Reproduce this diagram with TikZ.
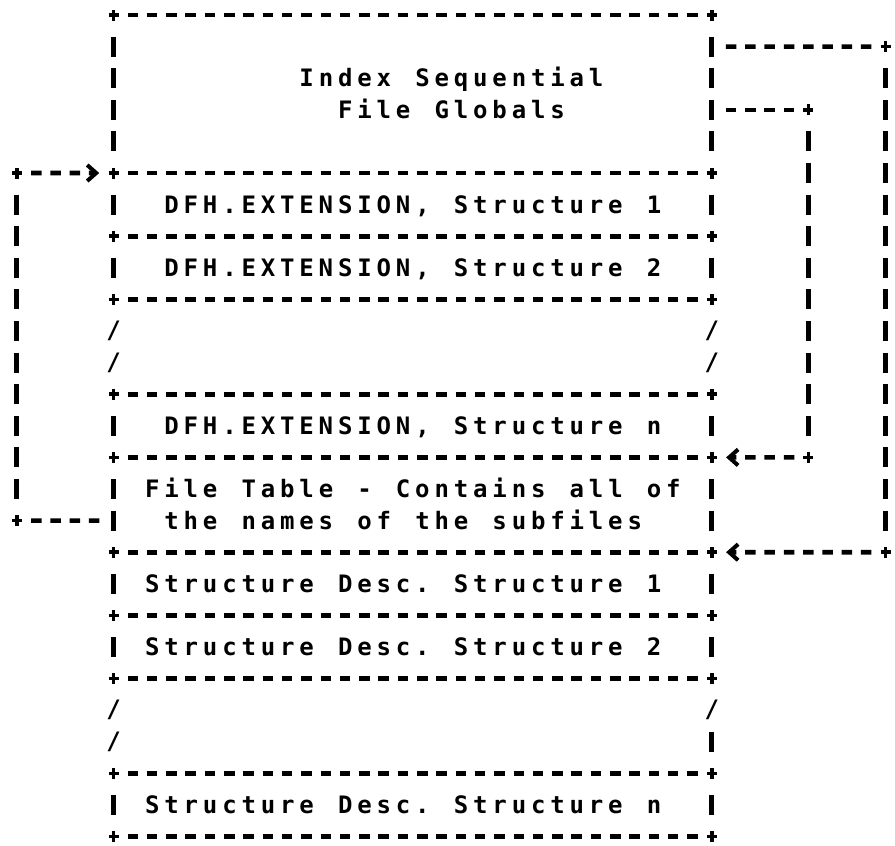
\documentclass[tikz,border=0pt]{standalone}
\usepackage{fontspec}
\newfontfamily\dmono{DejaVu Sans Mono}
\usetikzlibrary{arrows.meta}
\newcommand\gridtxt[1]{\gridstep#1\relax}
\def\gridstep#1{\ifx\relax#1\else\makebox[19.3pt][c]{#1}\expandafter\gridstep\fi}
\begin{document}
\begin{tikzpicture}[x=19.3pt,y=-31.6pt,
  hdash/.style={line width=4.6pt, black, dash pattern=on 10.5pt off 8.8pt, shorten <=14.05pt, shorten >=14.05pt},
  vdash/.style={line width=5pt, black, dash pattern=on 20pt off 11.6pt, shorten <=21.6pt, shorten >=21.6pt},
  cell/.style={inner sep=0pt, outer sep=0pt, minimum width=598.3pt},
  mtext/.style={font=\dmono\bfseries\fontsize{24pt}{24pt}\selectfont, inner sep=0pt, anchor=base west, yshift=-8.7pt},
  gch/.style={font=\dmono\bfseries\fontsize{24pt}{24pt}\selectfont, inner sep=0pt},
  plusmark/.pic={\draw[line width=3.6pt] (-5pt,0) -- (5pt,0) (0,-5.5pt) -- (0,5.5pt);},
  arrowend/.style={-{Straight Barb[length=9pt,width=16pt,line width=4pt]}, shorten >=14.3pt}
]
\useasboundingbox (-0.8808,-0.4747) rectangle (45.492,26.297);

% compartments of the main stack
\node[cell, minimum height=158pt]  (glob) at (20.5,2.5) {};
\node[cell, minimum height=63.2pt] (d1)   at (20.5,6) {};
\node[cell, minimum height=63.2pt] (d2)   at (20.5,8) {};
\node[cell, minimum height=94.8pt] (gapA) at (20.5,10.5) {};
\node[cell, minimum height=63.2pt] (dn)   at (20.5,13) {};
\node[cell, minimum height=94.8pt] (ft)   at (20.5,15.5) {};
\node[cell, minimum height=63.2pt] (s1)   at (20.5,18) {};
\node[cell, minimum height=63.2pt] (s2)   at (20.5,20) {};
\node[cell, minimum height=94.8pt] (gapB) at (20.5,22.5) {};
\node[cell, minimum height=63.2pt] (sn)   at (20.5,25) {};

% horizontal borders
\draw[hdash] (glob.north west) -- (glob.north east);
\foreach \n in {glob,d1,d2,gapA,dn,ft,s1,s2,gapB,sn}
  \draw[hdash] (\n.south west) -- (\n.south east);
% vertical walls
\foreach \n in {glob,d1,d2,dn,ft,s1,s2,sn}{
  \draw[vdash] (\n.north west) -- (\n.south west);
  \draw[vdash] (\n.north east) -- (\n.south east);
}
% broken walls
\node[gch] (sa1) at (5,10) {/};
\node[gch] (sa2) at (5,11) {/};
\node[gch] (sa3) at (36,10) {/};
\node[gch] (sa4) at (36,11) {/};
\node[gch] (sb1) at (5,22) {/};
\node[gch] (sb2) at (5,23) {/};
\node[gch] (sb3) at (36,22) {/};
\draw[line width=5pt] ([yshift=41.6pt]gapB.south east) -- ([yshift=21.6pt]gapB.south east);

% corner marks
\foreach \r in {0,5,7,9,12,14,17,19,21,24,26}{
  \pic at (5,\r) {plusmark};
  \pic at (36,\r) {plusmark};
}
\coordinate (la) at (0,16);
\coordinate (lb) at (0,5);
\coordinate (ia) at (41,3);
\coordinate (ib) at (41,14);
\coordinate (oa) at (45,1);
\coordinate (ob) at (45,17);
\foreach \c in {la,lb,ia,ib,oa,ob} \pic at (\c) {plusmark};

% left loop
\draw[hdash] (la) -- ([yshift=31.6pt]ft.south west);
\draw[vdash] (lb) -- (la);
\draw[hdash, arrowend] (lb) -- (d1.north west);
% inner right loop
\draw[hdash] ([yshift=63.2pt]glob.south east) -- (ia);
\draw[vdash] (ia) -- (ib);
\draw[hdash, arrowend] (ib) -- (dn.south east);
% outer right loop
\draw[hdash] ([yshift=-31.6pt]glob.north east) -- (oa);
\draw[vdash] (oa) -- (ob);
\draw[hdash, arrowend] (ob) -- (ft.south east);

% texts
\node[mtext] (t1) at (14.5,2) {\gridtxt{Index~Sequential}};
\node[mtext] (t2) at (16.5,3) {\gridtxt{File~Globals}};
\node[mtext] (t3) at (7.5,6) {\gridtxt{DFH.EXTENSION,~Structure~1}};
\node[mtext] (t4) at (7.5,8) {\gridtxt{DFH.EXTENSION,~Structure~2}};
\node[mtext] (t5) at (7.5,13) {\gridtxt{DFH.EXTENSION,~Structure~n}};
\node[mtext] (t6) at (6.5,15) {\gridtxt{File~Table~-~Contains~all~of}};
\node[mtext] (t7) at (7.5,16) {\gridtxt{the~names~of~the~subfiles}};
\node[mtext] (t8) at (6.5,18) {\gridtxt{Structure~Desc.~Structure~1}};
\node[mtext] (t9) at (6.5,20) {\gridtxt{Structure~Desc.~Structure~2}};
\node[mtext] (t10) at (6.5,25) {\gridtxt{Structure~Desc.~Structure~n}};
\end{tikzpicture}
\end{document}
